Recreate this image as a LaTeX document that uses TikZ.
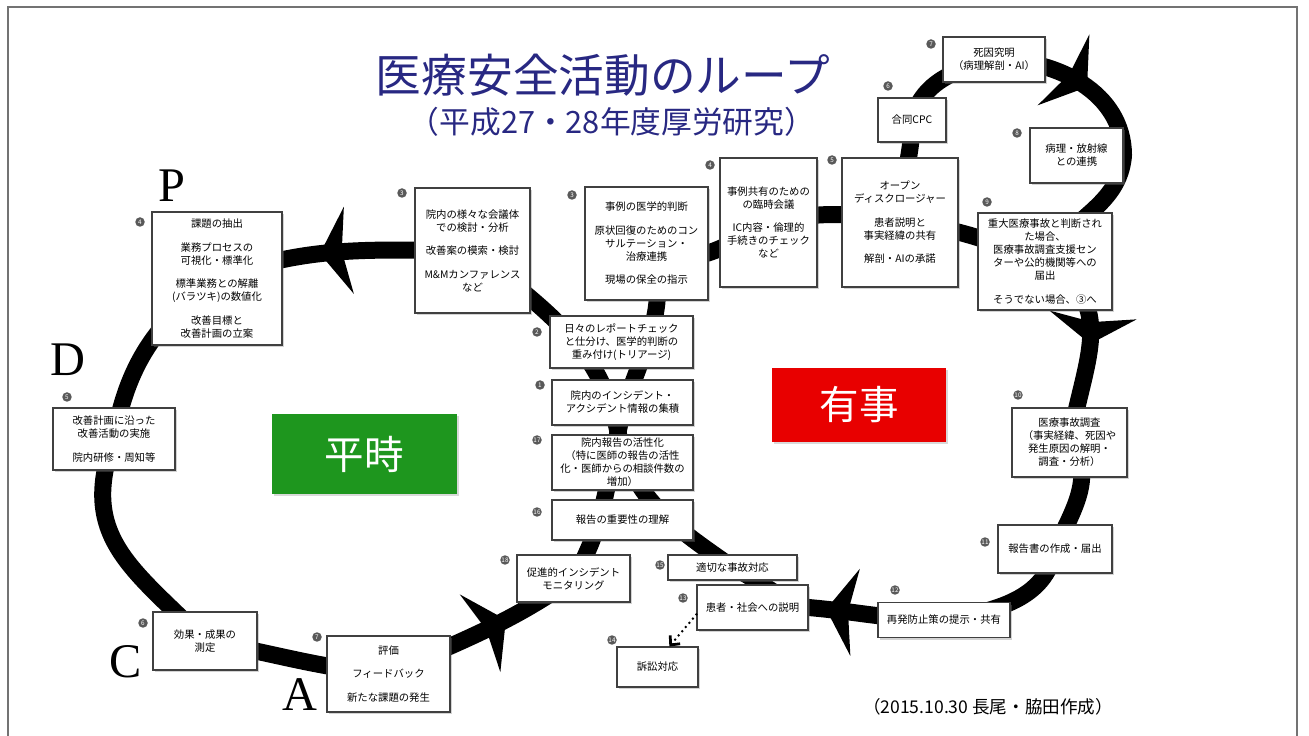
\documentclass[tikz,border=0pt]{standalone}
\usepackage{fontspec}
\setmainfont{Noto Sans CJK JP}
\newfontfamily\pdcafont{Liberation Serif}
\usetikzlibrary{arrows.meta,decorations.markings,backgrounds,shadows}
\definecolor{titlenavy}{RGB}{40,40,130}
\definecolor{heijigreen}{RGB}{30,150,30}
\definecolor{yujired}{RGB}{232,0,0}
\newcommand\boxfont{\fontsize{5.9}{7.4}\selectfont}
\tikzstyle{box} = [draw=black!75, line width=0.6pt, fill=white, align=center, inner sep=1pt, font=\boxfont, drop shadow={shadow xshift=1.2pt, shadow yshift=-1.2pt, opacity=0.35}]
\tikzstyle{num} = [circle, fill=black!65, text=white, inner sep=0pt, minimum size=0.19cm, font=\fontsize{3.6}{4}\selectfont]
\tikzstyle{loopline} = [line width=0.34cm, line cap=round, black]
\tikzstyle{pdca} = [inner sep=0pt, font=\pdcafont\fontsize{27.5}{28}\selectfont]
\tikzstyle{mode} = [text=white, inner sep=0pt, font=\fontsize{22.5}{24}\selectfont, drop shadow={shadow xshift=1pt, shadow yshift=-1pt, opacity=0.3}]
\tikzset{sz/.style 2 args={minimum width=#1*0.02cm, minimum height=#2*0.02cm},
  bigarrow/.style={postaction={decorate, decoration={markings, mark=at position #1 with {\arrow{Stealth[length=0.58cm,width=1.74cm,inset=0.14cm]}}}}}}

\begin{document}
\begin{tikzpicture}[x=0.02cm, y=-0.02cm]
\useasboundingbox (0,0) rectangle (1309,736);
\draw[black!55, line width=0.03cm] (8,745) |- (1297,7) -- (1297,745);

\draw (603,75) node (title) [text=titlenavy, font=\fontsize{26}{30}\selectfont] {医療安全活動のループ};
\draw (612,122) node (subtitle) [text=titlenavy, font=\fontsize{17.5}{20}\selectfont] {（平成27・28年度厚労研究）};
\draw (988,707) node (date) [font=\fontsize{10}{12}\selectfont] {（2015.10.30 長尾・脇田作成）};

\draw (364.5,454) node (heiji) [mode, fill=heijigreen, sz={185}{80}] {平時};
\draw (859,405) node (yuji) [mode, fill=yujired, sz={174}{74}] {有事};

\draw (171.5,186) node (lp) [pdca] {P};
\draw (68,360) node (ld) [pdca] {D};
\draw (126,662) node (lc) [pdca] {C};
\draw (300,695) node (la) [pdca] {A};

% heiji side
\draw (217,278.5) node (kadai) [box, sz={130}{133}] {課題の抽出\\[6pt]業務プロセスの\\可視化・標準化\\[6pt]標準業務との解離\\(バラツキ)の数値化\\[6pt]改善目標と\\改善計画の立案};
\draw (472.5,250.5) node (kaigi) [box, sz={115}{125}] {院内の様々な会議体\\での検討・分析\\[6pt]改善案の模索・検討\\[6pt]M\&Mカンファレンス\\など};
\draw (114,439) node (kaizen) [box, sz={122}{62}] {改善計画に沿った\\改善活動の実施\\[6pt]院内研修・周知等};
\draw (205,641) node (koka) [box, sz={104}{58}] {効果・成果の\\測定};
\draw (388.5,674) node (hyoka) [box, sz={123}{76}] {評価\\[6pt]フィードバック\\[6pt]新たな課題の発生};
\draw (573.5,578.5) node (sokushin) [box, sz={113}{47}] {促進的インシデント\\モニタリング};

% center column
\draw (621.5,342) node (hibi) [box, sz={143}{52}] {日々のレポートチェック\\と仕分け、医学的判断の\\重み付け(トリアージ)};
\draw (622.5,402.5) node (shuseki) [box, sz={141}{45}] {院内のインシデント・\\アクシデント情報の集積};
\draw (622.5,462.5) node (kasseika) [box, sz={141}{55}] {院内報告の活性化\\（特に医師の報告の活性\\化・医師からの相談件数の\\増加）};
\draw (622.5,520) node (juyo) [box, sz={141}{40}] {報告の重要性の理解};

% yuji side
\draw (646.5,243.5) node (igaku) [box, sz={123}{113}] {事例の医学的判断\\[6pt]原状回復のためのコン\\サルテーション・\\治療連携\\[6pt]現場の保全の指示};
\draw (768.5,222.5) node (rinji) [box, sz={97}{129}] {事例共有のための\\の臨時会議\\[6pt]IC内容・倫理的\\手続きのチェック\\など};
\draw (900,222.5) node (open) [box, sz={116}{129}] {オープン\\ディスクロージャー\\[6pt]患者説明と\\事実経緯の共有\\[6pt]解剖・AIの承諾};
\draw (912,120) node (cpc) [box, sz={68}{44}] {合同CPC};
\draw (994,59.5) node (shiin) [box, sz={102}{45}] {死因究明\\（病理解剖・AI）};
\draw (1076.5,155.5) node (byori) [box, sz={93}{55}] {病理・放射線\\との連携};
\draw (1045,261.5) node (juudai) [box, sz={134}{97}] {重大医療事故と判断され\\た場合、\\医療事故調査支援セン\\ターや公的機関等への\\届出\\[6pt]そうでない場合、③へ};
\draw (1069.5,442.5) node (chosa) [box, sz={115}{69}] {医療事故調査\\（事実経緯、死因や\\発生原因の解明・\\調査・分析）};
\draw (1055,549) node (hokokusho) [box, sz={114}{48}] {報告書の作成・届出};
\draw (944,620) node (saihatsu) [box, sz={132}{35}] {再発防止策の提示・共有};
\draw (752.5,607.5) node (setsumei) [box, sz={111}{45}] {患者・社会への説明};
\draw (732.5,567.5) node (tekisetsu) [box, sz={129}{25}] {適切な事故対応};
\draw (657.5,667) node (sosho) [box, sz={81}{40}] {訴訟対応};

% numbers
\draw (540,385) node (n-shuseki) [num] {1};
\draw (537,332) node (n-hibi) [num] {2};
\draw (402,193) node (n-kaigi) [num] {3};
\draw (140,222) node (n-kadai) [num] {4};
\draw (67,397) node (n-kaizen) [num] {5};
\draw (143,623) node (n-koka) [num] {6};
\draw (317,637) node (n-hyoka) [num] {7};
\draw (572,195) node (n-igaku) [num] {3};
\draw (710,165) node (n-rinji) [num] {4};
\draw (832,160) node (n-open) [num] {5};
\draw (888,86) node (n-cpc) [num] {6};
\draw (931,44) node (n-shiin) [num] {7};
\draw (1017,133) node (n-byori) [num] {8};
\draw (987,202) node (n-juudai) [num] {9};
\draw (1018,395) node (n-chosa) [num] {10};
\draw (985,542) node (n-hokokusho) [num] {11};
\draw (895,590) node (n-saihatsu) [num] {12};
\draw (683,598) node (n-setsumei) [num] {13};
\draw (612,640) node (n-sosho) [num] {14};
\draw (660,565) node (n-tekisetsu) [num] {15};
\draw (537,512) node (n-juyo) [num] {16};
\draw (537,440) node (n-kasseika) [num] {17};
\draw (505,560) node (n-sokushin) [num] {18};

\draw[line width=0.055cm, dash pattern=on 0pt off 0.11cm, line cap=round, -{Straight Barb[length=0.14cm,width=0.26cm]}] (setsumei.187) -- (sosho.60);

\begin{scope}[on background layer]
\coordinate (cross) at (618,432);
% heiji loop
\draw[loopline] (cross) to[out=102,in=-40] (kaigi.center);
\draw[loopline, bigarrow=0.59] (kaigi.center) to[out=180,in=20] (kadai.center);
\draw[loopline] (kadai.center) to[out=215,in=80] (kaizen.center);
\draw[loopline] (kaizen.center) to[out=250,in=135,looseness=1.2] (koka.center);
\draw[loopline] (koka.center) to[out=-10,in=175] (hyoka.center);
\draw[loopline, bigarrow=0.62] (hyoka.center) to[out=25,in=215] (sokushin.center);
\draw[loopline] (sokushin.center) to[out=60,in=258] (cross);
% yuji loop
\draw[loopline] (cross) to[out=78,in=-65] (igaku.center);
\draw[loopline] (igaku.center) to[out=-40,in=210] (rinji.center);
\draw[loopline] (rinji.center) to[out=12,in=168] (open.center);
\draw[loopline] (open.center) to[out=-5,in=160] (juudai.center);
\draw[loopline, bigarrow=0.5] (juudai.center) to[out=-30,in=80,looseness=1.2] (chosa.center);
\draw[loopline] (chosa.center) to[out=-50,in=65] (hokokusho.center);
\draw[loopline] (hokokusho.center) to[out=-100,in=10] (saihatsu.center);
\draw[loopline, bigarrow=0.87] (saihatsu.center) to[out=180,in=-5] (setsumei.east);
\draw[loopline] (setsumei.east) to[out=165,in=-25] (tekisetsu.center);
\draw[loopline] (tekisetsu.center) to[out=145,in=-78] (cross);
% small loop
\draw[loopline] (open.center) to[out=90,in=-90] (cpc.center);
\draw[loopline] (cpc.center) to[out=75,in=195] (shiin.center);
\draw[loopline, bigarrow=0.55] (shiin.center) to[out=0,in=90] (byori.east);
\draw[loopline] (byori.east) to[out=-95,in=60] (juudai.center);
\end{scope}
\end{tikzpicture}
\end{document}
